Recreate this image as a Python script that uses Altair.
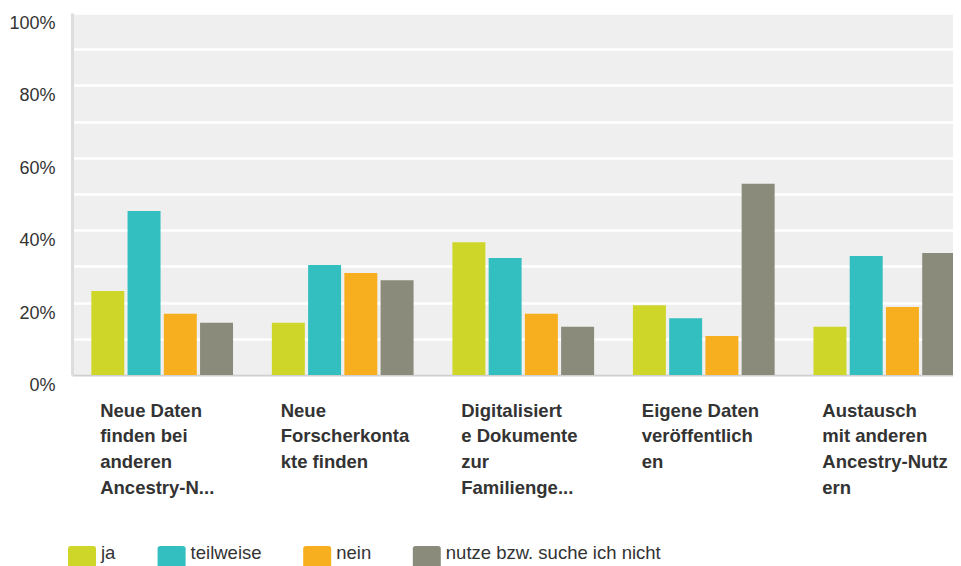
import altair as alt
import pandas as pd

# ---- data ----
categories = [
    "Neue Daten\nfinden bei\nanderen\nAncestry-N...",
    "Neue\nForscherkonta\nkte finden",
    "Digitalisiert\ne Dokumente\nzur\nFamilienge...",
    "Eigene Daten\nveröffentlich\nen",
    "Austausch\nmit anderen\nAncestry-Nutz\nern",
]
series = ["ja", "teilweise", "nein", "nutze bzw. suche ich nicht"]
ja = [23.2, 14.4, 36.7, 19.3, 13.3]
teilweise = [45.3, 30.4, 32.3, 15.7, 32.9]
nein = [16.9, 28.2, 16.9, 10.8, 18.8]
nutze = [14.4, 26.2, 13.3, 52.8, 33.7]
y_ticks = [0, 0.1, 0.2, 0.3, 0.4, 0.5, 0.6, 0.7, 0.8, 0.9, 1.0]
colors = ["#cfd62a", "#33bec0", "#f7af1f", "#8a8b7a"]

rows = []
for s, vals in zip(series, [ja, teilweise, nein, nutze]):
    for c, v in zip(categories, vals):
        rows.append({"category": c, "series": s, "value": v / 100})
df = pd.DataFrame(rows)

FONT = "Liberation Sans"
swatch = ("M-0.8,-0.5H0.8Q1,-0.5 1,-0.3V1.3Q1,1.5 0.8,1.5H-0.8Q-1,1.5 -1,1.3"
          "V-0.3Q-1,-0.5 -0.8,-0.5Z")

chart = (
    alt.Chart(df)
    .mark_bar()
    .encode(
        x=alt.X(
            "category:N",
            sort=categories,
            scale=alt.Scale(range=[0, 902.5], paddingInner=0.197, paddingOuter=0.098),
            axis=alt.Axis(
                title=None,
                labelAngle=0,
                labelAlign="left",
                labelBaseline="top",
                labelOffset=-62,
                labelPadding=26,
                labelExpr="split(datum.label, '\\n')",
                labelFont=FONT,
                labelFontSize=18.5,
                labelFontWeight="bold",
                labelColor="#333333",
                labelLineHeight=25.7,
                labelLimit=400,
                domainColor="#d0d0d0",
                domainWidth=2,
                ticks=False,
                grid=False,
            ),
        ),
        xOffset=alt.XOffset(
            "series:N", sort=series,
            scale=alt.Scale(paddingInner=0.09, paddingOuter=0.045),
        ),
        y=alt.Y(
            "value:Q",
            scale=alt.Scale(domain=[0, 1], nice=False),
            axis=alt.Axis(
                title=None,
                values=y_ticks,
                format=".0%",
                labelExpr="round(datum.value*100) % 20 == 0 ? datum.label : ''",
                labelFont=FONT,
                labelFontSize=18,
                labelColor="#333333",
                labelPadding=17,
                labelOffset=10.5,
                ticks=False,
                grid=True,
                gridColor="#ffffff",
                gridWidth=2.5,
                domainColor="#dddddd",
                domainWidth=3,
            ),
        ),
        color=alt.Color(
            "series:N",
            sort=series,
            scale=alt.Scale(domain=series, range=colors),
            legend=alt.Legend(
                title=None,
                orient="none",
                legendX=-4,
                legendY=526,
                direction="horizontal",
                symbolType=swatch,
                symbolSize=784,
                symbolStrokeWidth=0,
                symbolOpacity=1,
                labelFont=FONT,
                labelFontSize=18.5,
                labelColor="#333333",
                labelOffset=5,
                columnPadding=41.6,
                labelLimit=400,
            ),
        ),
    )
    .properties(
        width=881,
        height=362,
        autosize=alt.AutoSizeParams(type="none"),
        padding={"left": 64, "top": 5, "right": 0, "bottom": 191},
    )
    .configure(font=FONT)
    .configure_view(fill="#efefef", stroke=None)
)

chart.save("out.html", embed_options={"renderer": "svg", "actions": False})
